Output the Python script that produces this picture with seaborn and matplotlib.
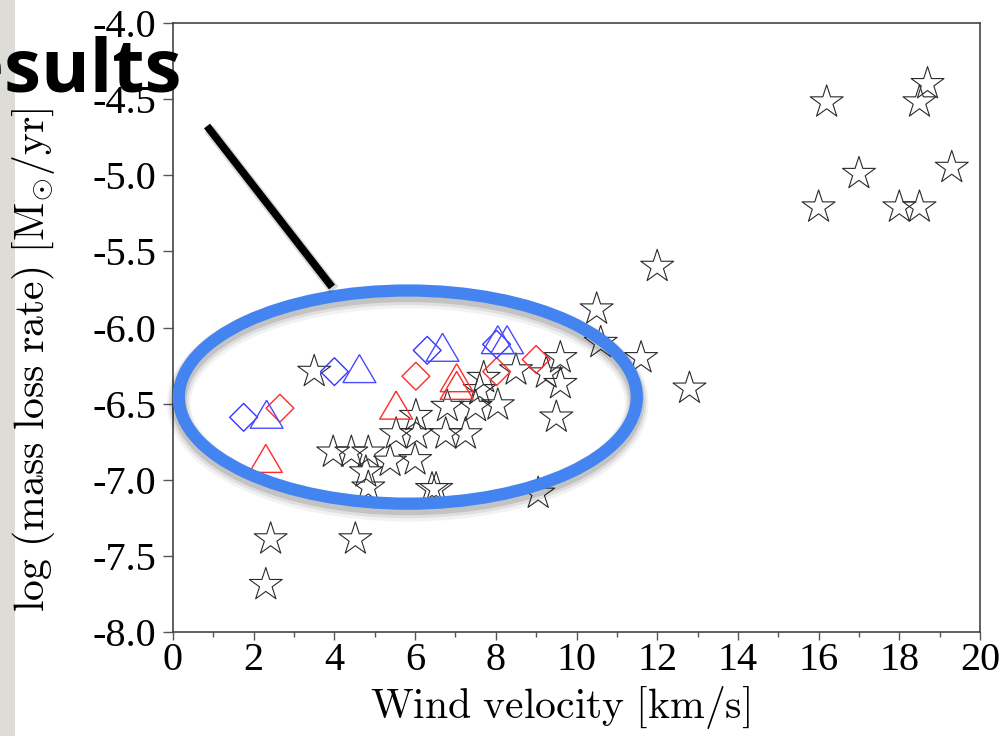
import numpy as np
import pandas as pd
import matplotlib
matplotlib.use("Agg")
import matplotlib.pyplot as plt
import seaborn as sns
from matplotlib.patches import Ellipse, Rectangle
from matplotlib.lines import Line2D

# ---- data ----
star_x = [16.2, 18.7, 18.5, 17.0, 19.3, 16.0, 18.0, 18.5, 12.0,
          10.5, 10.6, 11.6, 12.8, 9.6, 9.6, 9.5, 9.05, 9.25, 8.5, 7.7, 7.6,
          8.05, 7.5, 6.8, 6.02, 5.53, 6.04, 6.76, 7.25,
          3.5, 3.97, 4.42, 4.84, 5.38, 6.0, 4.78, 4.84, 6.42, 6.52,
          2.42, 4.52, 2.3]
star_y = [-4.52, -4.40, -4.52, -4.99, -4.95, -5.21, -5.21, -5.21, -5.60,
          -5.88, -6.10, -6.20, -6.40, -6.20, -6.37, -6.59, -7.09, -6.30, -6.28, -6.33, -6.41,
          -6.51, -6.52, -6.52, -6.58, -6.70, -6.70, -6.70, -6.70,
          -6.29, -6.82, -6.82, -6.82, -6.88, -6.87, -6.95, -7.05, -7.06, -7.06,
          -7.39, -7.39, -7.69]

blue_diamond_x = [1.75, 4.0, 6.3, 8.02]
blue_diamond_y = [-6.59, -6.29, -6.15, -6.11]
blue_triangle_x = [2.32, 4.62, 6.68, 8.05, 8.28]
blue_triangle_y = [-6.57, -6.27, -6.13, -6.08, -6.08]
red_diamond_x = [2.65, 6.02, 8.02, 9.0]
red_diamond_y = [-6.53, -6.32, -6.29, -6.21]
red_triangle_x = [2.3, 5.53, 7.03, 7.03]
red_triangle_y = [-6.86, -6.51, -6.33, -6.38]

x_ticks = [0, 2, 4, 6, 8, 10, 12, 14, 16, 18, 20]
y_ticks = [-8.0, -7.5, -7.0, -6.5, -6.0, -5.5, -5.0, -4.5, -4.0]
x_tick_labels = [str(v) for v in x_ticks]
y_tick_labels = ["%.1f" % v for v in y_ticks]

# ---- style ----
sns.set_theme(style="white")
plt.rcParams["mathtext.fontset"] = "cm"
plt.rcParams["font.family"] = ["Liberation Serif", "DejaVu Serif"]
plt.rcParams["text.color"] = "black"
plt.rcParams["axes.labelcolor"] = "black"
plt.rcParams["xtick.color"] = "black"
plt.rcParams["ytick.color"] = "black"

W, H = 1004, 736
fig = plt.figure(figsize=(W / 100, H / 100), dpi=100)
fig.patch.set_facecolor("white")
ax = fig.add_axes([173 / W, 1 - 632 / H, (980 - 173) / W, (632 - 23) / H])
ax.set_facecolor("white")

tri = [(0, 0.85), (-1, -0.85), (1, -0.85), (0, 0.85)]

sns.scatterplot(x=star_x, y=star_y, marker="*", s=620, facecolors="none",
                edgecolor="#2a2a2a", linewidth=0.8, ax=ax, zorder=3)
sns.scatterplot(x=red_diamond_x, y=red_diamond_y, marker="D", s=200, facecolors="none",
                edgecolor="#ff2a2a", linewidth=1.0, ax=ax, zorder=4)
sns.scatterplot(x=red_triangle_x, y=red_triangle_y, marker=tri, s=560, facecolors="none",
                edgecolor="#ff2a2a", linewidth=1.0, ax=ax, zorder=4)
sns.scatterplot(x=blue_diamond_x, y=blue_diamond_y, marker="D", s=200, facecolors="none",
                edgecolor="#3535ff", linewidth=1.0, ax=ax, zorder=4)
sns.scatterplot(x=blue_triangle_x, y=blue_triangle_y, marker=tri, s=560, facecolors="none",
                edgecolor="#4a4aff", linewidth=1.0, ax=ax, zorder=4)

ax.set_xlim(0, 20)
ax.set_ylim(-8, -4)
ax.set_xticks(x_ticks)
ax.set_xticklabels(x_tick_labels)
ax.set_xticks(np.arange(1, 20, 2), minor=True)
ax.set_yticks(y_ticks)
ax.set_yticklabels(y_tick_labels)

for s in ax.spines.values():
    s.set_color("#444444")
    s.set_linewidth(1.2)
    s.set_visible(True)

ax.tick_params(axis="x", which="major", direction="out", length=6, width=1.0,
               color="#555555", labelcolor="black", labelsize=29, pad=1,
               bottom=True, top=False)
ax.tick_params(axis="x", which="minor", direction="out", length=3.5, width=1.0,
               color="#555555", bottom=True, top=False)
ax.tick_params(axis="y", which="major", direction="out", length=7, width=1.0,
               color="#555555", labelcolor="black", labelsize=29, pad=5,
               left=True, right=False)

ax.set_xlabel(r"$\mathrm{Wind\ velocity\ [km/s]}$", fontsize=30, color="black")
ax.xaxis.set_label_coords((560 - 173) / 807, (632 - 684) / 609)
ax.set_ylabel(r"$\mathrm{log\ (mass\ loss\ rate)\ [M_{\odot}/yr]}$", fontsize=30,
              color="black")
ax.yaxis.set_label_coords((57 - 173) / 807, (632 - 360) / 609)

# ---- annotation: ellipse with soft shadow ----
ecx, ecy, ew, eh = 5.82, -6.457, 11.35, 1.40
for dy, lw, a in [(0.04, 17, 0.05), (0.032, 14, 0.08), (0.026, 11, 0.12)]:
    ax.add_patch(Ellipse((ecx, ecy - dy), ew, eh, fill=False, edgecolor="black",
                         linewidth=lw, alpha=a, clip_on=False, zorder=5))
ax.add_patch(Ellipse((ecx, ecy), ew, eh, fill=False, edgecolor="#4484f0",
                     linewidth=8.8, clip_on=False, zorder=6))

# ---- annotation: black pointer line with shadow ----
x0, y0, x1, y1 = 207 / W, 1 - 126 / H, 332 / W, 1 - 287 / H
fig.add_artist(Line2D([x0 + 0.002, x1 + 0.002], [y0 - 0.004, y1 - 0.004],
                      transform=fig.transFigure, color="black", alpha=0.15,
                      linewidth=8, solid_capstyle="butt", zorder=6))
fig.add_artist(Line2D([x0, x1], [y0, y1], transform=fig.transFigure,
                      color="black", linewidth=5.5, solid_capstyle="butt", zorder=7))

# ---- slide decorations ----
fig.add_artist(Rectangle((0, 0), 15 / W, 1, transform=fig.transFigure,
                         facecolor="#dedcd6", edgecolor="none", zorder=-1))
fig.text(182 / W, 1 - 92 / H, "Results", family=["Open Sans", "DejaVu Sans"],
         fontweight="bold", fontsize=53.5, ha="right", va="baseline",
         color="black", zorder=10)

fig.savefig("out.png", dpi=100, facecolor="white")
